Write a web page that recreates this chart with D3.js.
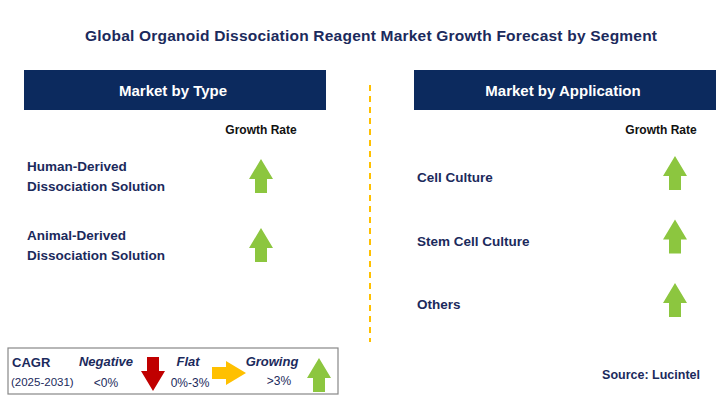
<!DOCTYPE html>
<html><head><meta charset="utf-8">
<script src="https://cdn.jsdelivr.net/npm/d3@7"></script>
<style>body{margin:0;background:#fff}svg{font-family:"Liberation Sans",Arial,sans-serif}</style>
</head><body>
<svg id="c" width="725" height="411"></svg>
<script>
const typeLabels = [["Human-Derived", "Dissociation Solution"], ["Animal-Derived", "Dissociation Solution"]];
const typeTrend = ["up", "up"];
const appLabels = [["Cell Culture"], ["Stem Cell Culture"], ["Others"]];
const appTrend = ["up", "up", "up"];

const navy = "#0c2a5e", green = "#8cc63f", red = "#c00000", orange = "#ffc000";
const svg = d3.select("#c");

svg.append("text").attr("x", 371).attr("y", 41).attr("text-anchor", "middle")
  .attr("font-size", 15.5).attr("font-weight", "bold").attr("fill", "#1b2a5c")
  .attr("textLength", 572).text("Global Organoid Dissociation Reagent Market Growth Forecast by Segment");

svg.append("line").attr("x1", 370).attr("x2", 370).attr("y1", 85).attr("y2", 342)
  .attr("stroke", orange).attr("stroke-width", 2).attr("stroke-dasharray", "6,5");

function arrow(cx, cy, dir, color) {
  const p = [[-6, 17], [-6, 3], [-12, 3], [0, -17], [12, 3], [6, 3], [6, 17]];
  const rot = dir === "up" ? 0 : dir === "down" ? 180 : 90;
  svg.append("path").attr("d", d3.line()(p) + "Z").attr("fill", color)
    .attr("transform", `translate(${cx},${cy}) rotate(${rot})`);
}

function panel(x0, title, labels, trends, yScale, arrowX, grX) {
  svg.append("rect").attr("x", x0).attr("y", 70).attr("width", 302).attr("height", 40).attr("fill", navy);
  svg.append("text").attr("x", x0 + 149).attr("y", 96).attr("text-anchor", "middle")
    .attr("fill", "#fff").attr("font-size", 15).attr("font-weight", "bold").text(title);
  svg.append("text").attr("x", grX).attr("y", 134).attr("text-anchor", "middle")
    .attr("fill", "#111").attr("font-size", 12).attr("font-weight", "bold").text("Growth Rate");
  labels.forEach((l, i) => {
    const cy = yScale(i);
    l.forEach((s, j) => {
      svg.append("text").attr("x", x0 + 3).attr("y", cy + 5 + (j - (l.length - 1) / 2) * 20)
        .attr("fill", "#1b2a5c").attr("font-size", 13.5).attr("font-weight", "bold").text(s);
    });
    arrow(arrowX, cy + (l.length === 1 ? -4 : 0), trends[i], green);
  });
}

panel(24, "Market by Type", typeLabels, typeTrend,
  d3.scaleLinear().domain([0, 1]).range([176, 245]), 261, 261);
panel(414, "Market by Application", appLabels, appTrend,
  d3.scaleLinear().domain([0, 2]).range([177, 304]), 675, 661);

// legend
svg.append("rect").attr("x", 8).attr("y", 348).attr("width", 330).attr("height", 46)
  .attr("fill", "#fff").attr("stroke", "#888").attr("stroke-width", 1.2);
const lt = (x, y, s, o) => svg.append("text").attr("x", x).attr("y", y).attr("fill", "#1b2a5c")
  .attr("font-size", o.size || 13).attr("font-weight", o.bold ? "bold" : null)
  .attr("font-style", o.italic ? "italic" : null).attr("text-anchor", o.anchor || "start").text(s);
lt(12, 367, "CAGR", {bold: true});
lt(11, 386, "(2025-2031)", {size: 11.5});
lt(106, 366, "Negative", {bold: true, italic: true, anchor: "middle"});
lt(106, 387, "<0%", {size: 12, anchor: "middle"});
arrow(153, 374, "down", red);
lt(188, 366, "Flat", {bold: true, italic: true, anchor: "middle"});
lt(190, 387, "0%-3%", {size: 12, anchor: "middle"});
arrow(229, 373, "right", orange);
lt(272, 366, "Growing", {bold: true, italic: true, anchor: "middle"});
lt(279, 385, ">3%", {size: 12, anchor: "middle"});
arrow(319, 375, "up", green);

svg.append("text").attr("x", 700).attr("y", 379).attr("text-anchor", "end")
  .attr("fill", "#1b2a5c").attr("font-size", 12.5).attr("font-weight", "bold").text("Source: Lucintel");
</script>
</body></html>
